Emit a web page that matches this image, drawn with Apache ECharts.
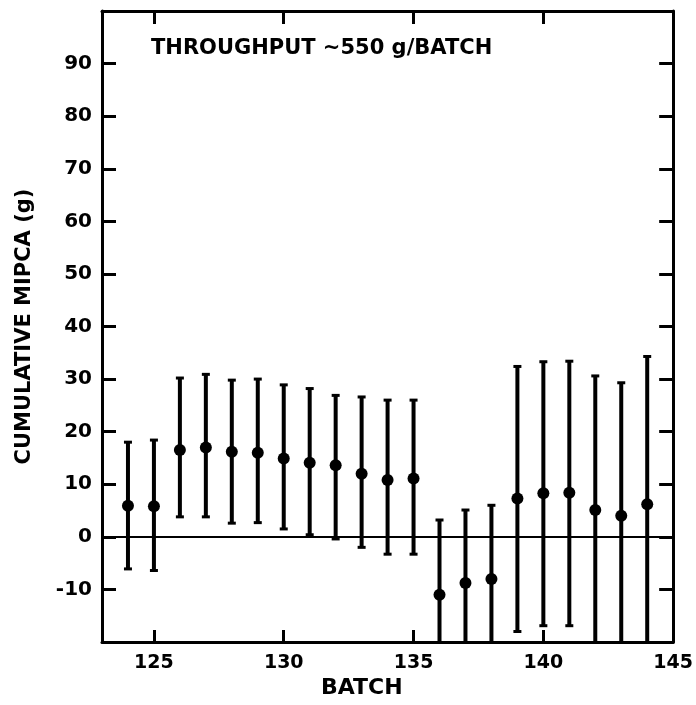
<!DOCTYPE html>
<html>
<head>
<meta charset="utf-8">
<script src="https://cdn.jsdelivr.net/npm/echarts@6/dist/echarts.min.js"></script>
<style>html,body{margin:0;padding:0;background:#fff;}#c{width:696px;height:705px;}</style>
</head>
<body>
<div id="c"></div>
<script>
var batches = [124,125,126,127,128,129,130,131,132,133,134,135,136,137,138,139,140,141,142,143,144];
var means   = [5.9,5.8,16.5,17.0,16.2,16.0,14.9,14.1,13.6,12.0,10.8,11.1,-11.0,-8.8,-8.0,7.3,8.3,8.4,5.1,4.0,6.2];
var highs   = [18.0,18.4,30.2,30.9,29.8,30.0,28.9,28.2,26.9,26.6,26.0,26.0,3.2,5.1,6.0,32.4,33.3,33.4,30.6,29.3,34.3];
var lows    = [-6.1,-6.4,3.8,3.8,2.6,2.7,1.5,0.4,-0.4,-2.0,-3.3,-3.3,-23,-23,-23,-18.0,-16.9,-16.9,-23,-23,-23];
var xTicks  = [125,130,135,140];
var xLabels = [125,130,135,140,145];
var yLabels = [-10,0,10,20,30,40,50,60,70,80,90];
var annotation = 'THROUGHPUT ~550 g/BATCH';
var xName = 'BATCH';
var yName = 'CUMULATIVE MIPCA (g)';

var FONT = 'DejaVu Sans';
var errData = batches.map(function(b,i){ return [b, lows[i], highs[i]]; });
var ptData = batches.map(function(b,i){ return [b, means[i]]; });

var chart = echarts.init(document.getElementById('c'), null, {renderer:'canvas'});
var axisLine = {show:true, onZero:false, lineStyle:{color:'#000', width:3}};
chart.setOption({
  animation:false,
  backgroundColor:'#fff',
  grid:{left:102, right:20, top:11, bottom:63, containLabel:false},
  title:[
    {text:annotation, left:146, top:33, textStyle:{fontFamily:FONT, fontWeight:'bold', fontSize:21, color:'#000'}},
    {text:xName, left:316, top:672, textStyle:{fontFamily:FONT, fontWeight:'bold', fontSize:22, color:'#000'}}
  ],
  xAxis:[
    {type:'value', position:'bottom', min:123, max:145,
     axisLine:axisLine,
     axisTick:{show:true, inside:true, length:12, customValues:xTicks, lineStyle:{color:'#000', width:3}},
     axisLabel:{customValues:xLabels, color:'#000', fontFamily:FONT, fontWeight:'bold', fontSize:19, margin:12},
     splitLine:{show:false}},
    {type:'value', position:'top', min:123, max:145,
     axisLine:axisLine,
     axisTick:{show:true, inside:true, length:13, customValues:xTicks, lineStyle:{color:'#000', width:3}},
     axisLabel:{show:false},
     splitLine:{show:false}}
  ],
  yAxis:[
    {type:'value', position:'left', min:-20, max:100, interval:10,
     name:yName, nameLocation:'middle', nameGap:67, nameRotate:90,
     nameTextStyle:{fontFamily:FONT, fontWeight:'bold', fontSize:21, color:'#000'},
     axisLine:axisLine,
     axisTick:{show:true, inside:true, length:14, lineStyle:{color:'#000', width:3}},
     axisLabel:{color:'#000', fontFamily:FONT, fontWeight:'bold', fontSize:20, margin:10,
       formatter:function(v){ return yLabels.indexOf(v) >= 0 ? String(v) : ''; }},
     splitLine:{show:false}},
    {type:'value', position:'right', min:-20, max:100, interval:10,
     axisLine:axisLine,
     axisTick:{show:true, inside:true, length:14, lineStyle:{color:'#000', width:3}},
     axisLabel:{show:false},
     splitLine:{show:false}}
  ],
  series:[
    {type:'custom', xAxisIndex:0, yAxisIndex:0, clip:true, data:errData,
     renderItem:function(params, api){
       var x = api.value(0);
       var lo = api.coord([x, api.value(1)]);
       var hi = api.coord([x, api.value(2)]);
       var w = 4;
       return {type:'group', children:[
         {type:'line', shape:{x1:lo[0], y1:lo[1], x2:hi[0], y2:hi[1]}, style:{stroke:'#000', lineWidth:4}},
         {type:'line', shape:{x1:lo[0]-w, y1:lo[1], x2:lo[0]+w, y2:lo[1]}, style:{stroke:'#000', lineWidth:3}},
         {type:'line', shape:{x1:hi[0]-w, y1:hi[1], x2:hi[0]+w, y2:hi[1]}, style:{stroke:'#000', lineWidth:3}}
       ]};
     }},
    {type:'scatter', xAxisIndex:0, yAxisIndex:0, data:ptData, symbol:'circle', symbolSize:12,
     itemStyle:{color:'#000', opacity:1},
     markLine:{silent:true, symbol:['none','none'], label:{show:false},
       lineStyle:{color:'#000', width:2, type:'solid'}, data:[{yAxis:0}]}}
  ]
});
</script>
</body>
</html>
